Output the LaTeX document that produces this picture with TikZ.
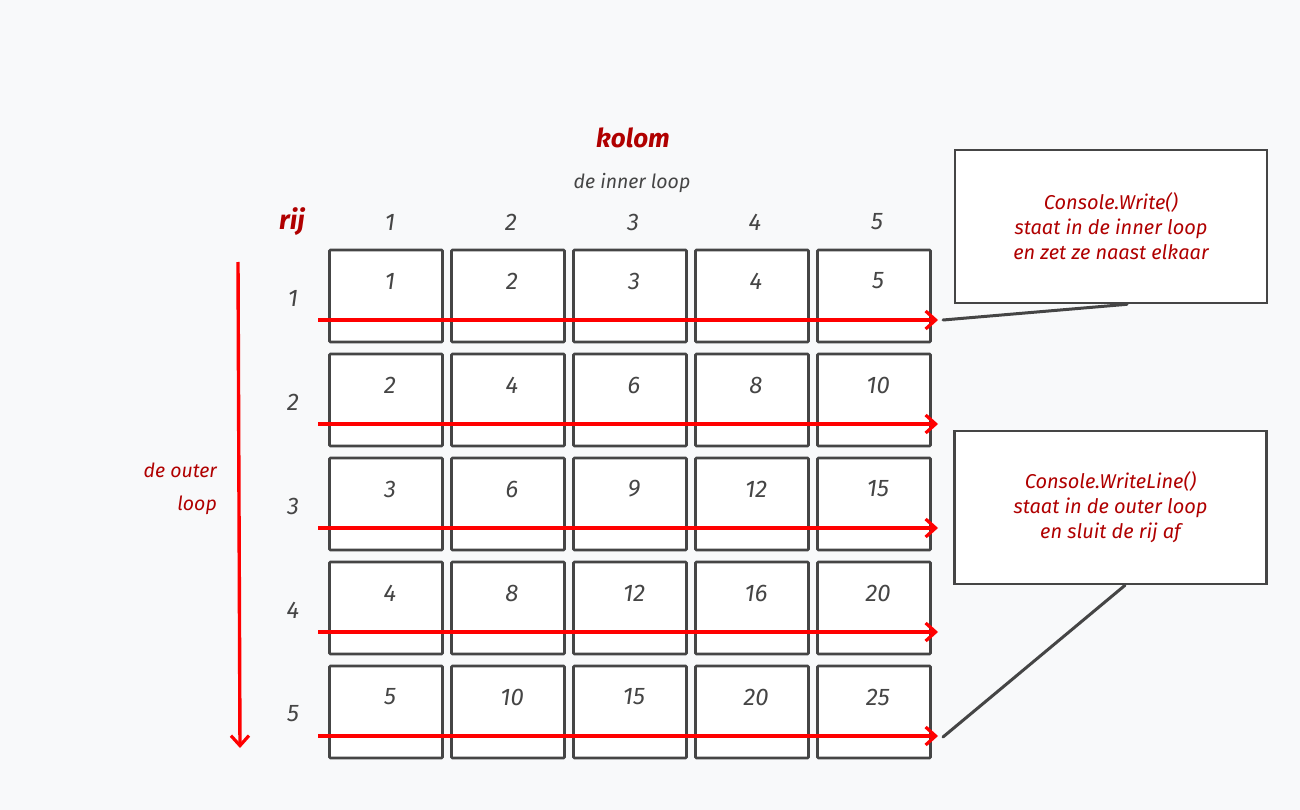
\documentclass[tikz,border=0pt]{standalone}
\usepackage{fontspec}
\setmainfont{Fira Sans}
\usetikzlibrary{arrows.meta}
\definecolor{bg}{HTML}{F8F9FA}
\definecolor{ink}{HTML}{454545}
\definecolor{darkred}{HTML}{B00000}
\definecolor{arrowred}{HTML}{FF0000}
\tikzset{
  cell/.style={draw=ink, line width=2.6pt, fill=white, minimum width=113pt, minimum height=92pt, inner sep=0pt, rounded corners=1pt},
  num/.style={text=ink, font=\fontsize{24}{28}\selectfont\itshape, inner sep=0pt, anchor=center},
  redlabel/.style={text=darkred, font=\fontsize{19.5}{24}\selectfont\itshape, inner sep=0pt},
  callout/.style={draw=ink, line width=2.6pt, fill=white, minimum width=312pt, minimum height=153pt, inner sep=0pt, align=center, text=darkred, font=\fontsize{20}{25}\selectfont\itshape},
  redarrow/.style={draw=arrowred, line width=3.4pt, -{Straight Barb[length=10pt,width=18pt,line width=3.2pt]}},
  tail/.style={draw=ink, line width=3pt, line cap=round}
}
\begin{document}
\begin{tikzpicture}[x=1pt,y=-1pt]
\useasboundingbox (0,0) rectangle (1300,810);
\fill[bg] (0,0) rectangle (1300,810);

% titles
\node[text=darkred, font=\fontsize{26}{30}\selectfont\bfseries\itshape, inner sep=0pt] (kolom) at (633,138) {kolom};
\node[text=ink, font=\fontsize{19.5}{22}\selectfont\itshape, inner sep=0pt] (inner) at (632,183) {de inner loop};
\node[text=darkred, font=\fontsize{27}{30}\selectfont\bfseries\itshape, inner sep=0pt] (rij) at (292,222) {rij};
\node[redlabel, anchor=east] (outer1) at (217,470) {de outer};
\node[redlabel, anchor=east] (outer2) at (217,505) {loop};

% column headers
\foreach \j/\x in {1/390,2/511,3/633,4/755,5/877}{
  \node[num] (h-\j) at (\x,222) {\j};
}

% cells
\foreach \i/\top in {1/250,2/354,3/458,4/562,5/666}{
  \node[num] (r-\i) at (293,\top+48) {\i};
  \foreach \j/\x in {1/386,2/508,3/630,4/752,5/874}{
    \pgfmathtruncatemacro{\v}{\i*\j}
    \node[cell] (c-\i-\j) at (\x,\top+46) {};
    \node[num] (n-\i-\j) at (\x+4,\top+31) {\v};
  }
  \coordinate (rs-\i) at (318,\top+70);
  \coordinate (re-\i) at (938,\top+70);
  \draw[redarrow] (rs-\i) -- (re-\i);
}

% vertical outer arrow
\coordinate (vs) at (238,262);
\coordinate (ve) at (240,748);
\draw[redarrow] (vs) -- (ve);

% callouts
\node[callout] (call1) at (1111,226.5) {Console.Write()\\staat in de inner loop\\en zet ze naast elkaar};
\node[callout] (call2) at (1110.5,507.5) {Console.WriteLine()\\staat in de outer loop\\en sluit de rij af};

\coordinate (t1) at (943,320);
\coordinate (t2) at (943,737);
\draw[tail] (t1) -- (call1.south -| 1127,0);
\draw[tail] (t2) -- (call2.south -| 1125,0);
\end{tikzpicture}
\end{document}
